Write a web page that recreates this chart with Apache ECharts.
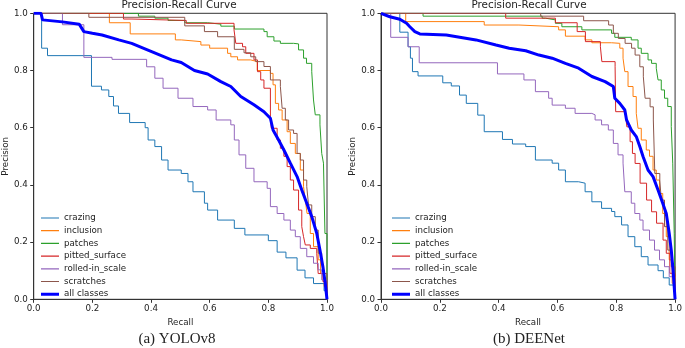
<!DOCTYPE html>
<html>
<head>
<meta charset="utf-8" />
<title>Precision-Recall Curve</title>
<style>
  html, body { margin: 0; padding: 0; background: #fff; }
  #chart { width: 685px; height: 348px; }
</style>
</head>
<body>
<div id="chart"></div>
<script src="https://cdn.jsdelivr.net/npm/echarts@6/dist/echarts.min.js"></script>
<script>
// class names and colours (matplotlib tab10 + pure blue for the mean curve)
const classNames = ['crazing', 'inclusion', 'patches', 'pitted_surface', 'rolled-in_scale', 'scratches', 'all classes'];
const classColors = ['#1f77b4', '#ff7f0e', '#2ca02c', '#d62728', '#9467bd', '#8c564b', '#0000ff'];
const tickLabels = ['0.0', '0.2', '0.4', '0.6', '0.8', '1.0'];

// (a) YOLOv8  -- [recall, precision]
const yoloCrazing = [[0,1],[0.027,0.878],[0.047,0.852],[0.197,0.745],[0.231,0.732],[0.256,0.709],[0.272,0.676],[0.289,0.65],[0.327,0.618],[0.38,0.6],[0.39,0.557],[0.413,0.534],[0.436,0.487],[0.458,0.452],[0.503,0.44],[0.526,0.411],[0.543,0.376],[0.582,0.336],[0.593,0.312],[0.627,0.277],[0.684,0.248],[0.72,0.225],[0.8,0.205],[0.83,0.165],[0.86,0.145],[0.898,0.102],[0.925,0.075],[0.954,0.055],[0.99,0.03],[1,0]];
const yoloInclusion = [[0,1],[0.258,0.967],[0.329,0.928],[0.483,0.907],[0.503,0.901],[0.57,0.889],[0.6,0.878],[0.661,0.86],[0.672,0.848],[0.695,0.837],[0.74,0.831],[0.762,0.8],[0.807,0.79],[0.816,0.75],[0.824,0.685],[0.835,0.662],[0.847,0.627],[0.864,0.586],[0.875,0.545],[0.892,0.51],[0.909,0.452],[0.92,0.394],[0.926,0.347],[0.932,0.3],[0.943,0.23],[0.954,0.184],[0.97,0.138],[0.978,0.09],[0.99,0.045],[1,0]];
const yoloPatches = [[0,1],[0.357,0.99],[0.413,0.983],[0.458,0.975],[0.515,0.967],[0.593,0.962],[0.638,0.955],[0.684,0.945],[0.785,0.936],[0.796,0.918],[0.819,0.903],[0.841,0.895],[0.886,0.893],[0.903,0.872],[0.92,0.843],[0.93,0.825],[0.948,0.796],[0.954,0.697],[0.96,0.645],[0.976,0.61],[0.982,0.51],[0.988,0.476],[0.993,0.23],[1,0]];
const yoloPitted = [[0,1],[0.306,0.98],[0.335,0.975],[0.52,0.965],[0.683,0.942],[0.689,0.895],[0.712,0.883],[0.723,0.86],[0.751,0.837],[0.763,0.796],[0.774,0.767],[0.785,0.738],[0.807,0.64],[0.81,0.598],[0.83,0.557],[0.841,0.528],[0.853,0.5],[0.864,0.464],[0.875,0.417],[0.886,0.382],[0.903,0.312],[0.914,0.254],[0.92,0.219],[0.926,0.19],[0.943,0.178],[0.965,0.161],[0.97,0.09],[0.986,0.062],[1,0]];
const yoloRolled = [[0,1],[0.098,0.96],[0.171,0.846],[0.267,0.839],[0.385,0.813],[0.413,0.773],[0.441,0.738],[0.492,0.703],[0.543,0.674],[0.593,0.662],[0.622,0.627],[0.672,0.61],[0.684,0.557],[0.7,0.505],[0.723,0.458],[0.751,0.411],[0.796,0.388],[0.807,0.324],[0.83,0.3],[0.853,0.277],[0.875,0.242],[0.892,0.219],[0.909,0.178],[0.931,0.149],[0.954,0.126],[0.97,0.103],[0.982,0.068],[1,0]];
const yoloScratches = [[0,1],[0.188,0.986],[0.515,0.956],[0.582,0.936],[0.627,0.918],[0.684,0.874],[0.717,0.862],[0.74,0.848],[0.757,0.831],[0.785,0.814],[0.807,0.767],[0.841,0.744],[0.847,0.668],[0.858,0.627],[0.869,0.592],[0.886,0.58],[0.898,0.51],[0.909,0.487],[0.92,0.417],[0.931,0.394],[0.937,0.33],[0.948,0.289],[0.96,0.242],[0.97,0.161],[0.982,0.138],[0.988,0.09],[1,0]];
const yoloAll = [[0,1],[0.025,1],[0.03,0.977],[0.098,0.97],[0.155,0.962],[0.171,0.936],[0.2,0.93],[0.233,0.924],[0.29,0.907],[0.334,0.895],[0.402,0.866],[0.47,0.837],[0.503,0.828],[0.548,0.8],[0.593,0.788],[0.638,0.761],[0.672,0.744],[0.706,0.709],[0.751,0.68],[0.785,0.656],[0.807,0.633],[0.816,0.592],[0.835,0.557],[0.853,0.522],[0.875,0.476],[0.898,0.429],[0.914,0.382],[0.931,0.336],[0.948,0.289],[0.965,0.231],[0.976,0.172],[0.986,0.114],[0.994,0.056],[1,0]];

// (b) DEENet
const deeCrazing = [[0,1],[0.064,0.934],[0.092,0.883],[0.1,0.843],[0.107,0.796],[0.126,0.781],[0.21,0.757],[0.239,0.746],[0.267,0.714],[0.29,0.685],[0.329,0.644],[0.351,0.586],[0.413,0.559],[0.447,0.543],[0.492,0.534],[0.525,0.487],[0.582,0.476],[0.604,0.452],[0.627,0.411],[0.672,0.406],[0.694,0.376],[0.717,0.341],[0.75,0.318],[0.784,0.307],[0.795,0.289],[0.818,0.26],[0.84,0.219],[0.863,0.184],[0.885,0.149],[0.908,0.12],[0.942,0.1],[0.96,0.075],[0.98,0.05],[1,0]];
const deeInclusion = [[0,1],[0.084,0.971],[0.351,0.959],[0.469,0.953],[0.604,0.942],[0.627,0.92],[0.694,0.907],[0.717,0.897],[0.784,0.895],[0.812,0.878],[0.823,0.843],[0.829,0.796],[0.84,0.744],[0.857,0.709],[0.868,0.65],[0.874,0.598],[0.885,0.557],[0.902,0.522],[0.913,0.5],[0.925,0.452],[0.936,0.417],[0.947,0.37],[0.958,0.3],[0.97,0.219],[0.98,0.138],[0.99,0.056],[1,0]];
const deePatches = [[0,1],[0.143,0.99],[0.548,0.983],[0.559,0.977],[0.593,0.965],[0.615,0.953],[0.683,0.942],[0.784,0.93],[0.795,0.916],[0.851,0.907],[0.874,0.878],[0.885,0.86],[0.908,0.837],[0.92,0.825],[0.936,0.808],[0.942,0.767],[0.953,0.732],[0.964,0.703],[0.975,0.674],[0.987,0.604],[0.992,0.476],[0.997,0.231],[1,0]];
const deePitted = [[0,1],[0.424,0.983],[0.593,0.967],[0.667,0.936],[0.695,0.901],[0.746,0.883],[0.751,0.831],[0.796,0.813],[0.798,0.656],[0.83,0.65],[0.836,0.603],[0.847,0.551],[0.855,0.51],[0.864,0.475],[0.881,0.406],[0.903,0.347],[0.92,0.306],[0.937,0.266],[0.959,0.207],[0.97,0.161],[0.982,0.091],[1,0]];
const deeRolled = [[0,1],[0.033,0.916],[0.092,0.883],[0.13,0.827],[0.396,0.788],[0.486,0.767],[0.525,0.726],[0.57,0.703],[0.582,0.679],[0.627,0.668],[0.66,0.65],[0.717,0.645],[0.728,0.627],[0.75,0.61],[0.773,0.592],[0.79,0.545],[0.806,0.505],[0.823,0.476],[0.829,0.376],[0.851,0.336],[0.863,0.3],[0.88,0.277],[0.891,0.242],[0.913,0.207],[0.93,0.172],[0.947,0.138],[0.964,0.114],[0.98,0.079],[1,0]];
const deeScratches = [[0,1],[0.543,0.99],[0.689,0.974],[0.774,0.959],[0.79,0.93],[0.807,0.912],[0.83,0.895],[0.852,0.878],[0.864,0.854],[0.88,0.813],[0.892,0.778],[0.898,0.703],[0.915,0.673],[0.926,0.627],[0.931,0.44],[0.948,0.417],[0.953,0.347],[0.964,0.254],[0.975,0.172],[0.987,0.114],[1,0]];
const deeAll = [[0,1],[0.03,0.988],[0.064,0.979],[0.087,0.965],[0.098,0.953],[0.115,0.936],[0.132,0.928],[0.222,0.924],[0.323,0.907],[0.391,0.889],[0.436,0.878],[0.492,0.869],[0.537,0.854],[0.582,0.843],[0.627,0.825],[0.672,0.808],[0.717,0.779],[0.762,0.761],[0.79,0.744],[0.795,0.703],[0.812,0.685],[0.829,0.662],[0.835,0.627],[0.851,0.592],[0.868,0.569],[0.88,0.534],[0.891,0.499],[0.908,0.452],[0.925,0.429],[0.942,0.382],[0.958,0.336],[0.97,0.3],[0.98,0.231],[0.987,0.172],[0.993,0.103],[1,0]];

const yoloData = [yoloCrazing, yoloInclusion, yoloPatches, yoloPitted, yoloRolled, yoloScratches, yoloAll];
const deeData = [deeCrazing, deeInclusion, deePatches, deePitted, deeRolled, deeScratches, deeAll];

const FONT = 'DejaVu Sans';
const INK = '#222';

// legend swatches: a horizontal stripe inside a 18x10 box (corner dots keep the box size)
const thinIcon = 'path://M0,0L0.01,0L0.01,0.01Z M0,4.4L18,4.4L18,5.6L0,5.6Z M17.99,9.99L18,9.99L18,10Z';
const thickIcon = 'path://M0,0L0.01,0L0.01,0.01Z M0,3.5L18,3.5L18,6.5L0,6.5Z M17.99,9.99L18,9.99L18,10Z';

function panelSeries(sets, idx) {
  return sets.map(function (d, i) {
    const isAll = i === classNames.length - 1;
    return {
      name: classNames[i],
      type: 'line',
      xAxisIndex: idx,
      yAxisIndex: idx,
      data: d,
      step: isAll ? false : 'end',
      symbol: 'none',
      silent: true,
      z: isAll ? 5 : 2,
      lineStyle: { color: classColors[i], width: isAll ? 3 : 1 },
      itemStyle: { color: classColors[i] }
    };
  });
}

function axisX(idx) {
  return {
    type: 'value', gridIndex: idx, min: 0, max: 1, interval: 0.2,
    name: 'Recall', nameLocation: 'middle', nameGap: 15,
    nameTextStyle: { fontFamily: FONT, fontSize: 8.7, color: INK },
    axisLine: { lineStyle: { color: '#333', width: 1 } },
    axisTick: { length: 3.5, lineStyle: { color: '#333' } },
    axisLabel: { margin: 5, fontFamily: FONT, fontSize: 8.7, color: INK,
      formatter: function (v) { return tickLabels[Math.round(v * 5)]; } },
    splitLine: { show: false }
  };
}

function axisY(idx) {
  return {
    type: 'value', gridIndex: idx, min: 0, max: 1, interval: 0.2,
    name: 'Precision', nameLocation: 'middle', nameGap: 21,
    nameTextStyle: { fontFamily: FONT, fontSize: 8.7, color: INK },
    axisLine: { lineStyle: { color: '#333', width: 1 } },
    axisTick: { length: 3.5, lineStyle: { color: '#333' } },
    axisLabel: { margin: 6, fontFamily: FONT, fontSize: 8.7, color: INK,
      formatter: function (v) { return tickLabels[Math.round(v * 5)]; } },
    splitLine: { show: false }
  };
}

function legendAt(left) {
  return {
    orient: 'vertical', left: left, top: 208, itemWidth: 18, itemHeight: 10, itemGap: 2.7,
    selectedMode: false,
    data: classNames.map(function (n, i) {
      return { name: n, icon: i === classNames.length - 1 ? thickIcon : thinIcon };
    }),
    textStyle: { fontFamily: FONT, fontSize: 8.7, color: INK, lineHeight: 10 }
  };
}

function heading(text, x, y, family, size) {
  return {
    text: text, left: x, top: y, textAlign: 'center', padding: 0,
    textStyle: { fontFamily: family, fontSize: size, fontWeight: 'normal', color: INK }
  };
}

const chart = echarts.init(document.getElementById('chart'), null, { renderer: 'canvas' });
chart.setOption({
  animation: false,
  backgroundColor: '#fff',
  title: [
    heading('Precision-Recall Curve', 179, 0, FONT, 10.4),
    heading('Precision-Recall Curve', 529, 0, FONT, 10.4),
    heading('(a) YOLOv8', 177, 332, 'Liberation Serif', 15),
    heading('(b) DEENet', 529, 332, 'Liberation Serif', 15)
  ],
  legend: [legendAt(36), legendAt(387)],
  grid: [
    { left: 31, top: 13.3, width: 296, height: 286, show: true, borderColor: '#333', borderWidth: 1, backgroundColor: 'transparent' },
    { left: 381, top: 13.3, width: 296.3, height: 286, show: true, borderColor: '#333', borderWidth: 1, backgroundColor: 'transparent' }
  ],
  xAxis: [axisX(0), axisX(1)],
  yAxis: [axisY(0), axisY(1)],
  series: panelSeries(yoloData, 0).concat(panelSeries(deeData, 1))
});
</script>
</body>
</html>
